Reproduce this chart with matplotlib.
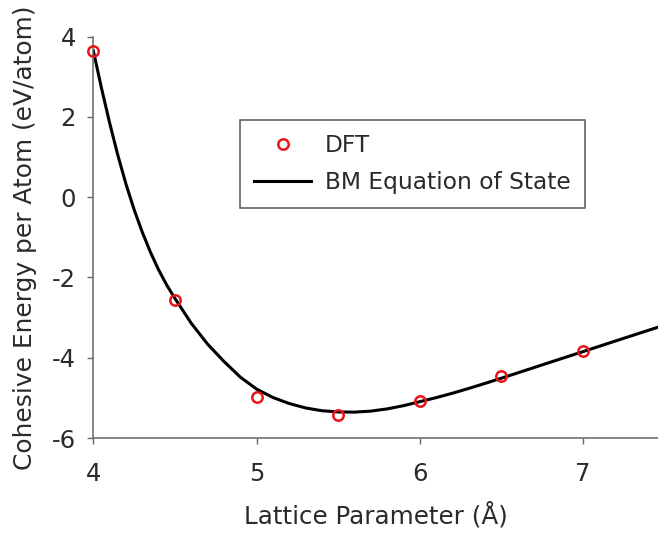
import numpy as np
import matplotlib.pyplot as plt

plt.rcParams['font.family'] = ['DejaVu Sans']
plt.rcParams['axes.unicode_minus'] = False

# DFT cohesive energies (eV/atom) vs lattice parameter (Å)
a_dft = [4.0, 4.5, 5.0, 5.5, 6.0, 6.5, 7.0]
e_dft = [3.65, -2.55, -4.97, -5.43, -5.08, -4.45, -3.82]

# Birch-Murnaghan fitted curve, sampled
a_bm = [4.00, 4.05, 4.10, 4.15, 4.20, 4.25, 4.30, 4.35, 4.40, 4.45, 4.50,
        4.60, 4.70, 4.80, 4.90, 5.00, 5.10, 5.20, 5.30, 5.40, 5.50,
        5.60, 5.70, 5.80, 5.90, 6.00, 6.10, 6.20, 6.30, 6.40, 6.50,
        6.60, 6.70, 6.80, 6.90, 7.00, 7.10, 7.20, 7.30, 7.40, 7.46]
e_bm = [3.65, 2.72, 1.85, 1.05, 0.33, -0.31, -0.87, -1.37, -1.81, -2.19, -2.52,
        -3.14, -3.66, -4.09, -4.48, -4.78, -4.99, -5.14, -5.25, -5.32, -5.35,
        -5.355, -5.33, -5.275, -5.195, -5.095, -4.995, -4.885, -4.765, -4.64, -4.51,
        -4.378, -4.245, -4.112, -3.98, -3.848, -3.715, -3.582, -3.45, -3.318, -3.24]

x_ticks = [4, 5, 6, 7]
y_ticks = [-6, -4, -2, 0, 2, 4]

fig = plt.figure(figsize=(6.58, 5.36), dpi=100)
ax = fig.add_axes([0.1418, 0.1828, 0.8582, 0.7489])

ax.plot(a_bm, e_bm, color='black', lw=2.2, label='BM Equation of State', zorder=2)
ax.plot(a_dft, e_dft, 'o', ms=7.5, mfc='none', mec='#e8141b', mew=1.8,
        label='DFT', clip_on=False, zorder=3)

ax.set_xlim(4, 7.46)
ax.set_ylim(-6, 4)
ax.set_xticks(x_ticks)
ax.set_yticks(y_ticks)

for side in ['top', 'right']:
    ax.spines[side].set_visible(False)
for side in ['left', 'bottom']:
    ax.spines[side].set_color('#666666')
    ax.spines[side].set_linewidth(1.1)

ax.tick_params(direction='out', length=4.5, width=1.0, color='#666666',
               labelsize=17.5, labelcolor='#2a2a2a')
ax.tick_params(axis='x', pad=13)
ax.tick_params(axis='y', pad=8)

ax.set_xlabel('Lattice Parameter (Å)', fontsize=17.7, color='#2a2a2a', labelpad=11)
ax.set_ylabel('Cohesive Energy per Atom (eV/atom)', fontsize=17.9, color='#2a2a2a',
              labelpad=11)

handles, labels = ax.get_legend_handles_labels()
leg = ax.legend(handles[::-1], labels[::-1], loc='upper left',
                bbox_to_anchor=(240 / 658, 1 - 120 / 536),
                bbox_transform=fig.transFigure, fontsize=16.8, numpoints=1,
                frameon=True, fancybox=False, framealpha=1, borderpad=0.6,
                borderaxespad=0, handlelength=2.45, handletextpad=0.6,
                labelspacing=0.6)
leg.get_frame().set_edgecolor('#555555')
leg.get_frame().set_linewidth(1.1)
for t in leg.get_texts():
    t.set_color('#2a2a2a')

fig.savefig('out.png', dpi=100)
